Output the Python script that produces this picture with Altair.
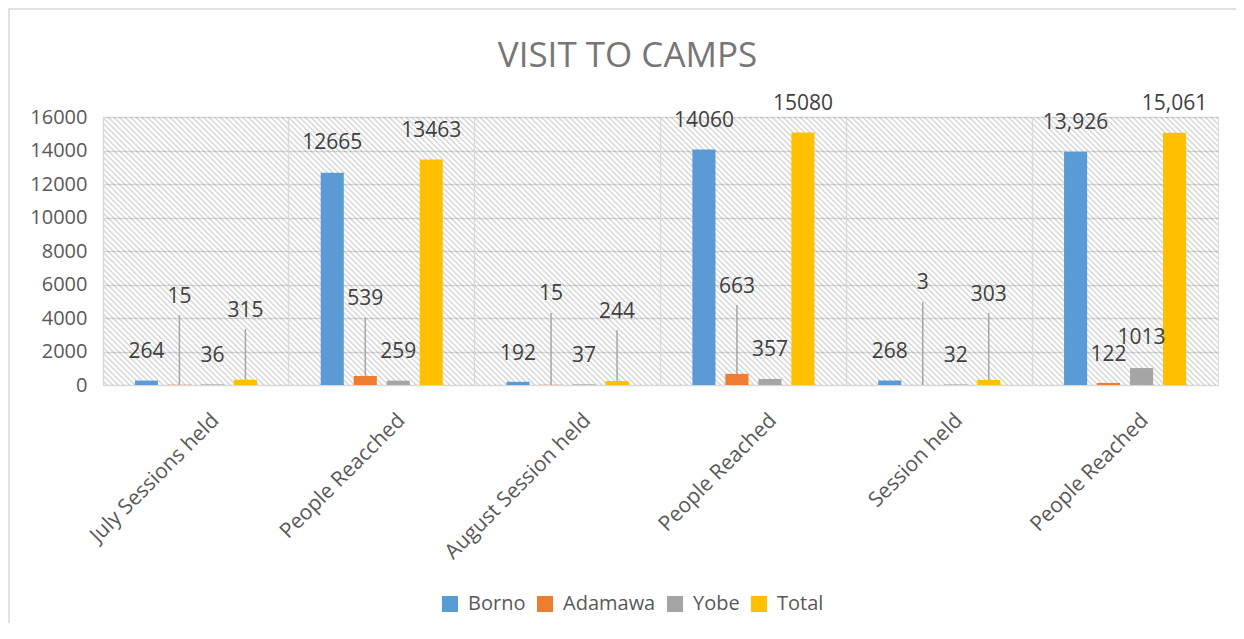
import json
import math
import altair as alt
import pandas as pd

# ---------------- data ----------------
categories = ["July Sessions held", "People Reacched", "August Session held",
              "People Reached", "Session held", "People Reached"]
series = ["Borno", "Adamawa", "Yobe", "Total"]
colors = ["#5B9BD5", "#ED7D31", "#A5A5A5", "#FFC000"]

borno = [264, 12665, 192, 14060, 268, 13926]
adamawa = [15, 539, 15, 663, 3, 122]
yobe = [36, 259, 37, 357, 32, 1013]
total = [315, 13463, 244, 15080, 303, 15061]

borno_labels = ["264", "12665", "192", "14060", "268", "13,926"]
adamawa_labels = ["15", "539", "15", "663", "3", "122"]
yobe_labels = ["36", "259", "37", "357", "32", "1013"]
total_labels = ["315", "13463", "244", "15080", "303", "15,061"]

y_ticks = [0, 2000, 4000, 6000, 8000, 10000, 12000, 14000, 16000]

# label placement (data units) and leader-line tops, as placed in the original
borno_label_y = [1970, 14450, 1850, 15760, 1970, 15640]
adamawa_label_y = [5250, 5130, 5430, 5850, 6090, 1790]
yobe_label_y = [1730, 1970, 1730, 2090, 1730, 2800]
total_label_y = [4420, 15160, 4360, 16780, 5370, 16780]

adamawa_leader = [4180, 4000, 4300, 4780, 4960, None]
total_leader = [3340, None, 3280, None, 4300, None]
none_leader = [None] * 6

# ---------------- table ----------------
rows = []
for s, vals, labs, ly, lead in [
    ("Borno", borno, borno_labels, borno_label_y, none_leader),
    ("Adamawa", adamawa, adamawa_labels, adamawa_label_y, adamawa_leader),
    ("Yobe", yobe, yobe_labels, yobe_label_y, none_leader),
    ("Total", total, total_labels, total_label_y, total_leader),
]:
    for i in range(len(categories)):
        rows.append({"idx": i, "series": s, "value": vals[i], "label": labs[i],
                     "label_y": ly[i], "leader": lead[i]})
df = pd.DataFrame(rows)
cat_df = pd.DataFrame({"idx": list(range(len(categories)))})

# ---------------- layout / style ----------------
W, H = 1115, 268
FONT = "Open Sans"
GRID = "#d9d9d9"

label_expr = json.dumps(categories) + "[datum.value]"

x_enc = alt.X("idx:O", title=None,
              scale=alt.Scale(paddingInner=0, paddingOuter=0),
              axis=alt.Axis(grid=True, bandPosition=0, gridColor=GRID, gridWidth=1.5,
                            domain=False, ticks=False, labelAngle=-45,
                            labelAlign="right", labelBaseline="middle",
                            labelOffset=20, labelPadding=32, labelLimit=0,
                            labelFont=FONT, labelFontSize=21, labelColor="#595959",
                            labelExpr=label_expr))
y_scale = alt.Scale(domain=[0, 16000], nice=False)
y_axis = alt.Axis(values=y_ticks, format="d", labelOverlap=False, grid=True,
                  gridColor=GRID, gridWidth=1.5, domain=False, ticks=False,
                  labelPadding=16, labelFont=FONT, labelFontSize=20,
                  labelColor="#595959", title=None)
xo = alt.XOffset("series:N", sort=series,
                 scale=alt.Scale(paddingInner=0.3, paddingOuter=0.966))

# diagonal hatch as a striped gradient (per-band rect)
bw = W / 6.0
r = H / bw
s_ = (1 + r) / (1 + r * r)
n = int(round((bw + H) / math.sqrt(2) / 3.96))
T = "rgba(0,0,0,0)"
G = "rgba(120,120,120,0.30)"
stops = []
for k in range(n):
    stops += [
        {"offset": round(k / n, 5), "color": T},
        {"offset": round((k + 0.45) / n, 5), "color": T},
        {"offset": round((k + 0.72) / n, 5), "color": G},
        {"offset": round((k + 1.0) / n, 5), "color": T},
    ]
hatch_fill = {"gradient": "linear", "x1": 0, "y1": 1, "x2": s_, "y2": 1 - s_ * r,
              "stops": stops}

hatch = alt.Chart(cat_df).mark_rect(fill=hatch_fill, strokeWidth=0).encode(
    x=x_enc,
    y=alt.Y(datum=0, scale=y_scale, axis=y_axis),
    y2=alt.Y2(datum=16000),
)

bars = alt.Chart(df).mark_bar().encode(
    x=x_enc,
    xOffset=xo,
    y=alt.Y("value:Q", scale=y_scale, axis=y_axis),
    color=alt.Color("series:N", sort=series,
                    scale=alt.Scale(domain=series, range=colors),
                    legend=alt.Legend(orient="none", legendX=337, legendY=477,
                                      direction="horizontal", title=None,
                                      symbolType="square", symbolSize=256,
                                      symbolStrokeWidth=0, labelFont=FONT,
                                      labelFontSize=20, labelColor="#595959",
                                      labelOffset=8, columnPadding=9, padding=0)),
)

leaders = alt.Chart(df).transform_filter("isValid(datum.leader)").mark_rule(
    color="#a6a6a6", strokeWidth=1.5).encode(
    x=x_enc, xOffset=xo,
    y=alt.Y("leader:Q", scale=y_scale, axis=y_axis),
    y2="value:Q",
)

texts = alt.Chart(df).mark_text(font=FONT, fontSize=21, color="#404040",
                                baseline="middle").encode(
    x=x_enc, xOffset=xo,
    y=alt.Y("label_y:Q", scale=y_scale, axis=y_axis),
    text="label:N",
)

frame = alt.Chart(pd.DataFrame({"a": [0]})).mark_rect(
    fill="transparent", stroke=GRID, strokeWidth=1.5).encode(
    x=alt.value(-94), x2=alt.value(1500), y=alt.value(-108), y2=alt.value(900))

chart = alt.layer(frame, hatch, bars, leaders, texts).properties(
    width=W, height=H,
    title=alt.TitleParams("VISIT TO CAMPS", font=FONT, fontSize=35,
                          fontWeight="normal", color="#767676", anchor="middle",
                          dx=-33, dy=66, offset=0),
    autosize=alt.AutoSizeParams(type="none"),
    padding={"left": 95, "top": 109, "right": 18, "bottom": 238},
).configure_view(stroke=GRID, strokeWidth=1.5).configure(background="white")

chart.save("out.html", embed_options={"renderer": "svg", "actions": False})
